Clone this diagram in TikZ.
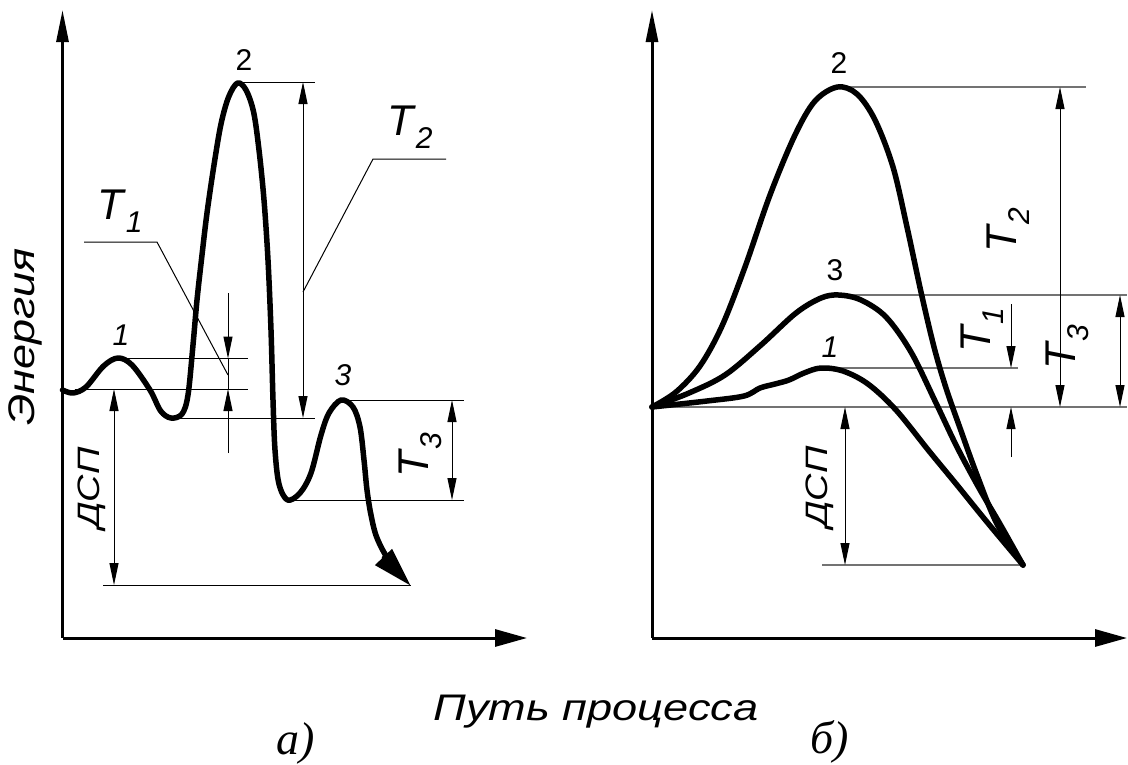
\documentclass[tikz,border=0pt]{standalone}
\usepackage{fontspec}
\usetikzlibrary{arrows.meta}
\newfontfamily\lblfont[FakeStretch=1.22]{Liberation Sans}
\newfontfamily\tfont{Liberation Sans}
\newfontfamily\serfont{Liberation Serif}
\newcommand{\Tsub}[1]{{\tfont\itshape\fontsize{43}{43}\selectfont T\kern2pt\raisebox{-13pt}{\fontsize{30}{30}\selectfont #1}}}
\tikzset{
  curve/.style={line width=5.5pt, line join=round, line cap=round},
  axisline/.style={line width=3pt},
  thinline/.style={line width=1pt},
  gline/.style={line width=1.2pt, black!55},
  yax/.style={axisline, -{Triangle[length=32pt,width=12pt]}},
  xax/.style={axisline, -{Triangle[length=32pt,width=17pt]}},
  dimboth/.style={thinline, {Triangle[length=22pt,width=9pt]}-{Triangle[length=22pt,width=9pt]}},
  dimone/.style={thinline, -{Triangle[length=22pt,width=9pt]}},
  biglabel/.style={inner sep=0pt, font=\lblfont\itshape\fontsize{37}{37}\selectfont},
  dsplabel/.style={inner sep=0pt, font=\lblfont\itshape\fontsize{31}{31}\selectfont},
  numlabel/.style={inner sep=0pt, font=\tfont\fontsize{30}{30}\selectfont},
  numitlabel/.style={inner sep=0pt, font=\tfont\itshape\fontsize{30}{30}\selectfont},
  tlabel/.style={inner sep=0pt},
  letterlabel/.style={inner sep=0pt, font=\serfont\itshape\fontsize{46}{46}\selectfont},
}
\begin{document}
\begin{tikzpicture}[x=1pt,y=-1pt]
\useasboundingbox[fill=white] (0,0) rectangle (1128,764);

% ================= LEFT PANEL (a) =================
\coordinate (LO) at (62.5,638);
\coordinate (LYtop) at (62.5,10);
\coordinate (LXend) at (527,638);
\draw[yax] (LO) -- (LYtop);
\draw[xax] (LO) -- (LXend);

% thin reference lines
\coordinate (p2a) at (237.5,82);   \coordinate (p2ae) at (315,82);
\coordinate (p1a) at (118,358.5);  \coordinate (p1ae) at (248,358.5);
\coordinate (b0a) at (75,389);     \coordinate (b0ae) at (248,389);
\coordinate (tra) at (178,418);    \coordinate (trae) at (315,418);
\coordinate (p3a) at (341,400);    \coordinate (p3ae) at (464,400);
\coordinate (t3a) at (287,500);    \coordinate (t3ae) at (464,500);
\coordinate (dsa) at (103,585);    \coordinate (dsae) at (411,585);
\draw[thinline] (p2a) -- (p2ae);
\draw[thinline] (p1a) -- (p1ae);
\draw[thinline] (b0a) -- (b0ae);
\draw[thinline] (tra) -- (trae);
\draw[thinline] (p3a) -- (p3ae);
\draw[thinline] (t3a) -- (t3ae);
\draw[thinline] (dsa) -- (dsae);

% dimension arrows
\draw[dimboth] (303,82) -- (303,418);
\draw[dimboth] (452,400) -- (452,500);
\draw[dimboth] (114,389) -- (114,585);
\coordinate (t1top) at (228,293);
\coordinate (t1bot) at (228,453);
\coordinate (t1up) at (228,358.5);
\coordinate (t1lo) at (228,389);
\draw[dimone] (t1top) -- (t1up);
\draw[dimone] (t1bot) -- (t1lo);
\draw[thinline] (t1up) -- (t1lo);

% leaders
\coordinate (t1m) at (228,375);
\draw[thinline] (84,242) -- (157,242) -- (t1m);
\coordinate (t2m) at (303,292);
\draw[thinline] (446,159) -- (373,159) -- (t2m);

% energy curve a
\draw[curve, -{Triangle[length=40pt,width=22pt]}] plot[smooth, tension=0.55] coordinates {
 (62.5,390) (73,393) (86,387) (103.6,366) (118,358) (132,365) (150,390) (160.7,411)
 (171,418) (182,414) (188,395) (193,345) (197,300) (202,255) (207,213) (214,165)
 (221,124) (228.6,97) (237.5,83) (246,90) (253.6,112) (259,150) (264,200) (268,260)
 (271,330) (273,400) (275,450) (279,484) (287.5,500) (300,493) (311,473) (321,435)
 (329,413) (341,400) (353,407) (360,427) (364,460) (367,490) (371,515) (377,538)
 (390,562) (411,586)};

% labels a
\node[numitlabel] (n1a) at (121,335) {1};
\node[numlabel] (n2a) at (244,60) {2};
\node[numitlabel] (n3a) at (343,375) {3};
\node[tlabel] (T1a) at (120,211) {\Tsub{1}};
\node[tlabel] (T2a) at (410,127) {\Tsub{2}};
\node[tlabel, rotate=90] (T3a) at (420,455) {\Tsub{3}};
\node[dsplabel, rotate=90] (dspa) at (92,488) {ДСП};
\node[biglabel, rotate=90] (energy) at (25,337) {Энергия};

% ================= RIGHT PANEL (b) =================
\coordinate (RO) at (652,638);
\coordinate (RYtop) at (652,10);
\coordinate (RXend) at (1127,638);
\draw[yax] (RO) -- (RYtop);
\draw[xax] (RO) -- (RXend);

\draw[gline] (838,87) -- (1086,87);
\draw[gline] (839,295) -- (1127,295);
\draw[gline] (821,368) -- (1018,368);
\draw[gline] (652,407) -- (1127,407);
\draw[gline] (822,565) -- (1023,565);

\draw[dimboth] (1060,87) -- (1060,407);
\draw[dimboth] (1120,295) -- (1120,407);
\draw[dimboth] (845,407) -- (845,565);
\coordinate (rt1top) at (1011,304);
\coordinate (rt1bot) at (1011,457);
\coordinate (rt1up) at (1011,368);
\coordinate (rt1lo) at (1011,407);
\draw[dimone] (rt1top) -- (rt1up);
\draw[dimone] (rt1bot) -- (rt1lo);

% curves b
\draw[curve] plot[smooth, tension=0.55] coordinates {
 (652,407) (676,392) (700,366) (722,326) (745,267) (770,195) (795,135) (815,101)
 (837.5,87) (857,94) (875,120) (893,167) (907,227) (921,292)
 (934,347) (946,388) (960,428) (977,475) (997,524) (1023,565)};
\draw[curve] plot[smooth, tension=0.55] coordinates {
 (652,407) (689,393) (725,375) (761,345) (796,313) (821,298) (839,295) (861,300)
 (886,317) (911,352) (936,403) (957,447) (979,488) (1000,524) (1023,565)};
\draw[curve] plot[smooth, tension=0.55] coordinates {
 (652,407) (707,401) (744,396) (760,388) (775,384) (789,380) (804,373) (821,368)
 (843,371) (868,384) (896,410) (929,451) (957,485) (987,522) (1023,565)};

\node[numitlabel] (n1b) at (830,347) {1};
\node[numlabel] (n2b) at (839,63) {2};
\node[numlabel] (n3b) at (835,270) {3};
\node[tlabel, rotate=90] (T1b) at (982,330) {\Tsub{1}};
\node[tlabel, rotate=90] (T2b) at (1008,230) {\Tsub{2}};
\node[tlabel, rotate=90] (T3b) at (1067,347) {\Tsub{3}};
\node[dsplabel, rotate=90] (dspb) at (820,487) {ДСП};

% ================= captions =================
\node[biglabel] (path) at (596,712) {Путь процесса};
\node[letterlabel] (la) at (296,743) {а)};
\node[letterlabel] (lb) at (830,742) {б)};
\end{tikzpicture}
\end{document}
